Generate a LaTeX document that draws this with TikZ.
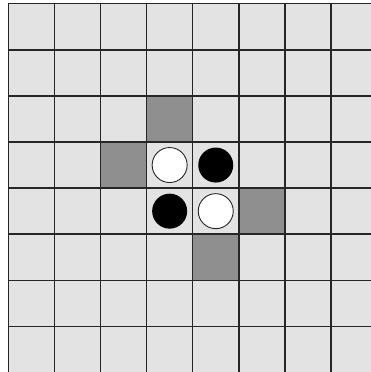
\documentclass[tikz,border=0pt]{standalone}
\begin{document}
\begin{tikzpicture}[x=1pt,y=-1pt,
  gridline/.style={draw=black!85,line width=1.5pt},
  cellbg/.style={fill=black!11},
  darkcell/.style={fill=black!44},
  whitedisc/.style={circle,draw=black!85,fill=white,line width=0.9pt,minimum size=35pt,inner sep=0pt},
  blackdisc/.style={circle,fill=black,minimum size=35pt,inner sep=0pt}]
\useasboundingbox (0,0) rectangle (370,372);
\fill[white] (0,0) rectangle (370,372);
\def\cs{46.1}
\def\ox{8.3}
\def\oy{3.7}
\fill[cellbg] (\ox,\oy) rectangle ({\ox+8*\cs},{\oy+8*\cs});
% dark cells
\foreach \c/\r in {3/2,2/3,5/4,4/5}
  \fill[darkcell] ({\ox+\c*\cs},{\oy+\r*\cs}) rectangle ({\ox+(\c+1)*\cs},{\oy+(\r+1)*\cs});
% grid
\foreach \i in {0,...,8} {
  \draw[gridline] ({\ox+\i*\cs},\oy) -- ({\ox+\i*\cs},{\oy+8*\cs});
  \draw[gridline] (\ox,{\oy+\i*\cs}) -- ({\ox+8*\cs},{\oy+\i*\cs});
}
% discs
\node[whitedisc] (w1) at ({\ox+3.5*\cs},{\oy+3.5*\cs}) {};
\node[blackdisc] (b1) at ({\ox+4.5*\cs},{\oy+3.5*\cs}) {};
\node[blackdisc] (b2) at ({\ox+3.5*\cs},{\oy+4.5*\cs}) {};
\node[whitedisc] (w2) at ({\ox+4.5*\cs},{\oy+4.5*\cs}) {};
\end{tikzpicture}
\end{document}
